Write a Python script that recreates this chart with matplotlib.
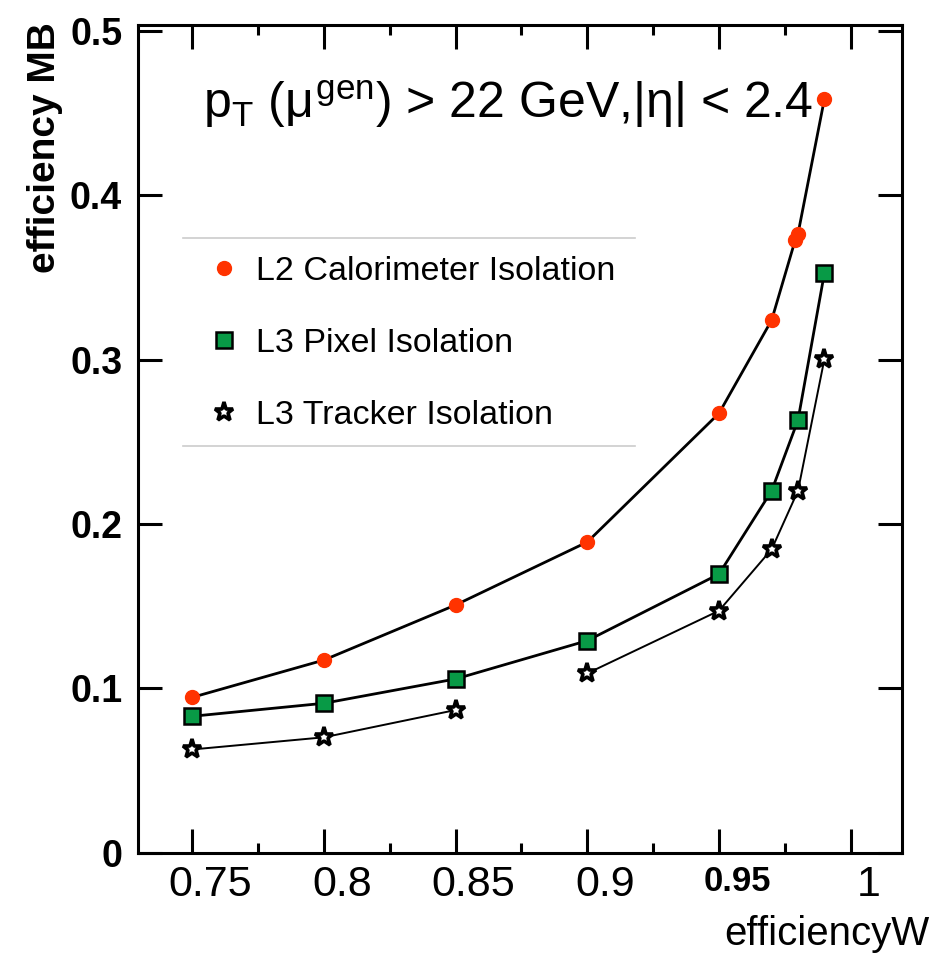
import numpy as np
import matplotlib
matplotlib.use("Agg")
import matplotlib.pyplot as plt
from matplotlib.lines import Line2D
from matplotlib.transforms import ScaledTranslation

# ---- data ----
calo_x = [0.75, 0.80, 0.85, 0.90, 0.95, 0.97, 0.979, 0.98, 0.99]
calo_y = [0.0945, 0.1172, 0.1507, 0.189, 0.2673, 0.324, 0.373, 0.3765, 0.4583]

pixel_x = [0.75, 0.80, 0.85, 0.90, 0.95, 0.97, 0.98, 0.99]
pixel_y = [0.0830, 0.0909, 0.1057, 0.1290, 0.1695, 0.2202, 0.2632, 0.3524]

tracker_x = [0.75, 0.80, 0.85, 0.90, 0.95, 0.97, 0.98, 0.99]
tracker_y = [0.0628, 0.0702, 0.0868, 0.1091, 0.1472, 0.1846, 0.2202, 0.3001]
tracker_break = 3  # no line drawn between 0.85 and 0.90

labels = ["L2 Calorimeter Isolation", "L3 Pixel Isolation", "L3 Tracker Isolation"]
xticks = [0.75, 0.80, 0.85, 0.90, 0.95, 1.0]
xtick_labels = ["0.75", "0.8", "0.85", "0.9", "0.95", "1"]
yticks = [0, 0.1, 0.2, 0.3, 0.4, 0.5]
ytick_labels = ["0", "0.1", "0.2", "0.3", "0.4", "0.5"]

plt.rcParams['font.family'] = ['Liberation Sans', 'DejaVu Sans']
plt.rcParams['mathtext.fontset'] = 'custom'
plt.rcParams['mathtext.rm'] = 'Liberation Sans'
plt.rcParams['mathtext.it'] = 'Liberation Sans'
plt.rcParams['mathtext.bf'] = 'Liberation Sans:bold'

W, H = 935, 955
fig = plt.figure(figsize=(W / 100, H / 100), dpi=100)
L, R, T, B = 137.5, 902.3, 25.5, 852.7
ax = fig.add_axes([L / W, 1 - B / H, (R - L) / W, (B - T) / H])
ax.set_xlim(0.7292, 1.0196)
ax.set_ylim(0, 0.5032)

red = '#ff3300'
green = '#089a46'
lw = 2.0

ax.plot(calo_x, calo_y, color='black', lw=lw, zorder=2)
ax.plot(calo_x, calo_y, ls='none', marker='o', ms=10, mfc=red, mec=red, zorder=3)

ax.plot(pixel_x, pixel_y, color='black', lw=lw, zorder=2)
ax.plot(pixel_x, pixel_y, ls='none', marker='s', ms=12, mfc=green, mec='black', mew=1.8, zorder=3)

ax.plot(tracker_x[:tracker_break], tracker_y[:tracker_break], color='black', lw=1.4, zorder=2)
ax.plot(tracker_x[tracker_break:], tracker_y[tracker_break:], color='black', lw=1.4, zorder=2)
ax.plot(tracker_x, tracker_y, ls='none', marker='*', ms=14, mfc='white', mec='black', mew=2.6, zorder=3)

# frame & ticks
for s in ax.spines.values():
    s.set_linewidth(2.2)
ax.set_xticks(xticks)
ax.set_xticklabels(xtick_labels)
ax.set_xticks(np.arange(0.775, 1.0, 0.05), minor=True)
ax.set_yticks(yticks)
ax.set_yticklabels(ytick_labels)
ax.tick_params(axis='x', which='major', direction='in', length=17, width=2.2,
               top=True, bottom=True, labelsize=31, pad=9)
ax.tick_params(axis='x', which='minor', direction='in', length=7, width=2.2,
               top=True, bottom=True)
ax.tick_params(axis='y', which='major', direction='in', length=17, width=2.2,
               left=True, right=True, labelsize=27, pad=11)
for lab in ax.get_yticklabels():
    lab.set_fontweight('bold')
shift = ScaledTranslation(18 / 100, 0, fig.dpi_scale_trans)
for lab, txt in zip(ax.get_xticklabels(), xtick_labels):
    lab.set_transform(lab.get_transform() + shift)
    if txt == "0.95":
        lab.set_fontweight('bold')
        lab.set_fontsize(25)

# axis titles
fig.text(45 / W, 1 - 22 / H, "efficiency MB", rotation=90, ha='center', va='top',
         fontsize=28, fontweight='bold')
fig.text(930 / W, 1 - 953 / H, "efficiencyW", ha='right', va='bottom', fontsize=29)

# header text
ax.text((203 - L) / (R - L), (B - 118) / (B - T),
        r'$\mathregular{p_T}$ ($\mu^{gen}$) > 22 GeV,|$\eta$| < 2.4',
        transform=ax.transAxes, ha='left', va='baseline', fontsize=36)

# legend
handles = [
    Line2D([], [], ls='none', marker='o', ms=10, mfc=red, mec=red),
    Line2D([], [], ls='none', marker='s', ms=12, mfc=green, mec='black', mew=1.8),
    Line2D([], [], ls='none', marker='*', ms=14, mfc='white', mec='black', mew=2.6),
]
leg = ax.legend(handles, labels, loc='upper left',
                bbox_to_anchor=((210 - L) / (R - L), (B - 256) / (B - T)),
                frameon=False, fontsize=24.5, handlelength=0.8, handletextpad=0.55,
                labelspacing=1.2, borderaxespad=0, borderpad=0)
for yy in (238, 446):
    ax.plot([(183 - L) / (R - L), (635 - L) / (R - L)], [(B - yy) / (B - T)] * 2,
            transform=ax.transAxes, color='#cccccc', lw=1.2, clip_on=False)

fig.savefig("out.png", dpi=100)
